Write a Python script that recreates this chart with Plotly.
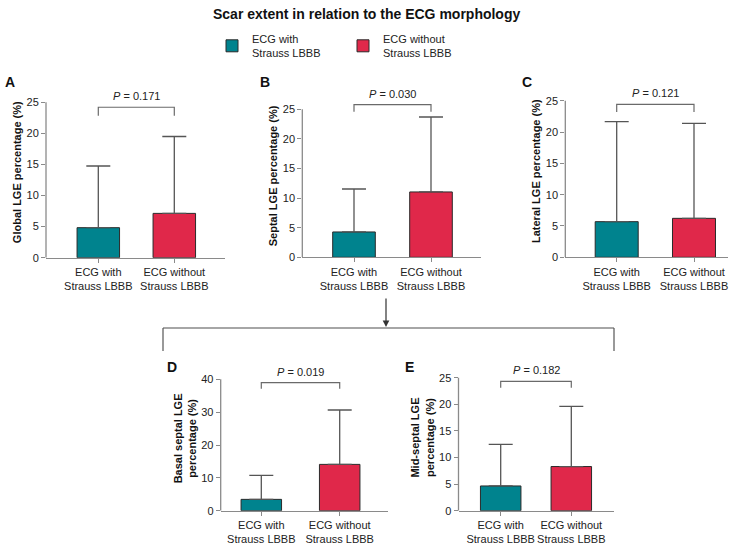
import plotly.graph_objects as go

W, H = 733, 544

groups = ["ECG with<br>Strauss LBBB", "ECG without<br>Strauss LBBB"]
legend_names = ["ECG with<br>Strauss LBBB", "ECG without<br>Strauss LBBB"]
colors = ["#00838e", "#e0284a"]

# mean and SD per panel (with, without)
mean_a = [4.83, 7.13]
sd_a = [9.92, 12.37]
mean_b = [4.28, 11.04]
sd_b = [7.26, 12.66]
mean_c = [5.69, 6.22]
sd_c = [15.96, 15.16]
mean_d = [3.45, 14.1]
sd_d = [7.31, 16.56]
mean_e = [4.65, 8.3]
sd_e = [7.8, 11.3]

p_values = ["0.171", "0.030", "0.121", "0.019", "0.182"]
bracket_y = [24.2, 25.8, 24.4, 39.0, 24.3]
bracket_drop = [1.35, 1.2, 1.2, 1.9, 1.2]
y_max = [25, 25, 25, 40, 25]
y_step = [5, 5, 5, 10, 5]
y_titles = ["<b>Global LGE percentage (%)</b>",
            "<b>Septal LGE percentage (%)</b>",
            "<b>Lateral LGE percentage (%)</b>",
            "<b>Basal septal LGE<br>percentage (%)</b>",
            "<b>Mid-septal LGE<br>percentage (%)</b>"]
letters = ["A", "B", "C", "D", "E"]

means = [mean_a, mean_b, mean_c, mean_d, mean_e]
sds = [sd_a, sd_b, sd_c, sd_d, sd_e]

# pixel layout: axis left, axis right, centre of bar 1, centre of bar 2, bar width, y of zero, y of top tick
boxes = [
    (46, 225, 98.3, 174.3, 42.5, 257.7, 102.3),
    (302.3, 480.7, 354, 431, 42.6, 257.3, 109.3),
    (565.3, 728, 616.7, 694, 43, 257.3, 100.7),
    (220.7, 388, 261.3, 339.7, 40.5, 510.7, 379.3),
    (458.5, 613.5, 500.7, 571.3, 40.5, 510.7, 377.7),
]
letter_pos = [(3, 82), (258, 82), (520, 82), (165, 367), (403, 367)]

FONT = "Liberation Sans, Arial, sans-serif"
AXIS_GREY = "#8a8a8a"
ERR_GREY = "#555555"

fig = go.Figure()
shapes = []
annotations = []

for i in range(5):
    left, right, c0, c1, bw, y0, ytop = boxes[i]
    unit = c1 - c0
    xr = [(left - c0) / unit, (right - c0) / unit]
    s = (y0 - ytop) / y_max[i]
    rng_top = y_max[i] * 1.1
    dom_top = y0 - rng_top * s
    xa = "xaxis" if i == 0 else f"xaxis{i + 1}"
    ya = "yaxis" if i == 0 else f"yaxis{i + 1}"
    xref = "x" if i == 0 else f"x{i + 1}"
    yref = "y" if i == 0 else f"y{i + 1}"

    for j in range(2):
        fig.add_trace(go.Bar(
            x=[j], y=[means[i][j]], width=bw / unit,
            marker=dict(color=colors[j], line=dict(color="#2a2a2a", width=1)),
            error_y=dict(type="data", symmetric=False, array=[sds[i][j]], arrayminus=[0],
                         color=ERR_GREY, thickness=1.3, width=12),
            name=legend_names[j], showlegend=(i == 0), legendgroup=str(j),
            xaxis=xref, yaxis=yref, hoverinfo="skip"))

    b = bracket_y[i]
    d = bracket_drop[i]
    fig.add_trace(go.Scatter(
        x=[0, 0, 1, 1], y=[b - d, b, b, b - d], mode="lines",
        line=dict(color="#6a6a6a", width=1.2), showlegend=False,
        xaxis=xref, yaxis=yref, hoverinfo="skip"))

    annotations.append(dict(
        x=0.5, y=b, xref=xref, yref=yref, yanchor="bottom", yshift=3,
        text=f"<i>P</i> = {p_values[i]}", showarrow=False,
        font=dict(size=11, color="#222", family=FONT)))

    fig.update_layout(**{
        xa: dict(domain=[left / W, right / W], range=xr, anchor=yref,
                 tickvals=[0, 1], ticktext=groups, tickangle=0, automargin=False,
                 showline=True, linecolor=AXIS_GREY,
                 linewidth=1.3, ticks="outside", ticklen=4, tickcolor=AXIS_GREY,
                 tickfont=dict(size=11, color="#222", family=FONT),
                 showgrid=False, zeroline=False, fixedrange=True),
        ya: dict(domain=[1 - y0 / H, 1 - dom_top / H], range=[0, rng_top], anchor=xref,
                 tickvals=list(range(0, y_max[i] + 1, y_step[i])), showline=False,
                 automargin=False,
                 ticks="outside", ticklen=4, tickcolor=AXIS_GREY, tickwidth=1.3,
                 tickfont=dict(size=11, color="#222", family=FONT),
                 title=dict(text=y_titles[i], font=dict(size=11, color="#111", family=FONT),
                            standoff=2),
                 showgrid=False, zeroline=False, fixedrange=True),
    })

    # vertical axis line up to the last tick
    shapes.append(dict(type="line", xref=f"{xref} domain", yref=yref, x0=0, x1=0,
                       y0=0, y1=y_max[i], line=dict(color=AXIS_GREY, width=1.3)))

    lx, ly = letter_pos[i]
    annotations.append(dict(x=lx / W, y=1 - ly / H, xref="paper", yref="paper",
                            xanchor="left", yanchor="middle", text=f"<b>{letters[i]}</b>",
                            showarrow=False, font=dict(size=14, color="#111", family=FONT)))

# connector from B down to D and E
shapes.append(dict(type="line", xref="paper", yref="paper", x0=163 / W, x1=614 / W,
                   y0=1 - 328 / H, y1=1 - 328 / H, line=dict(color="#888", width=1.5)))
shapes.append(dict(type="line", xref="paper", yref="paper", x0=163 / W, x1=163 / W,
                   y0=1 - 328 / H, y1=1 - 351 / H, line=dict(color="#555", width=1.2)))
shapes.append(dict(type="line", xref="paper", yref="paper", x0=614 / W, x1=614 / W,
                   y0=1 - 328 / H, y1=1 - 351 / H, line=dict(color="#555", width=1.2)))
annotations.append(dict(x=386 / W, y=1 - 327 / H, ax=0, ay=-30,
                        xref="paper", yref="paper", axref="pixel", ayref="pixel",
                        text="", showarrow=True, arrowhead=2, arrowsize=1.1, arrowwidth=1.2,
                        arrowcolor="#333"))

annotations.append(dict(x=0.5, y=1 - 14 / H, xref="paper", yref="paper",
                        xanchor="center", yanchor="middle",
                        text="<b>Scar extent in relation to the ECG morphology</b>",
                        showarrow=False, font=dict(size=14, color="#111", family=FONT)))

fig.update_layout(
    width=W, height=H, margin=dict(l=0, r=0, t=0, b=0, autoexpand=False),
    paper_bgcolor="white", plot_bgcolor="white",
    barmode="overlay", showlegend=True,
    legend=dict(orientation="h", x=212 / W, y=1 - 25 / H, xanchor="left", yanchor="top",
                font=dict(size=11, color="#222", family=FONT), itemwidth=30,
                entrywidth=86, traceorder="normal", bgcolor="rgba(0,0,0,0)"),
    shapes=shapes, annotations=annotations,
    font=dict(family=FONT),
)

fig.write_html("out.html", config={"displayModeBar": False},
               post_script="document.body.style.margin='0px';document.body.style.overflow='hidden';")
